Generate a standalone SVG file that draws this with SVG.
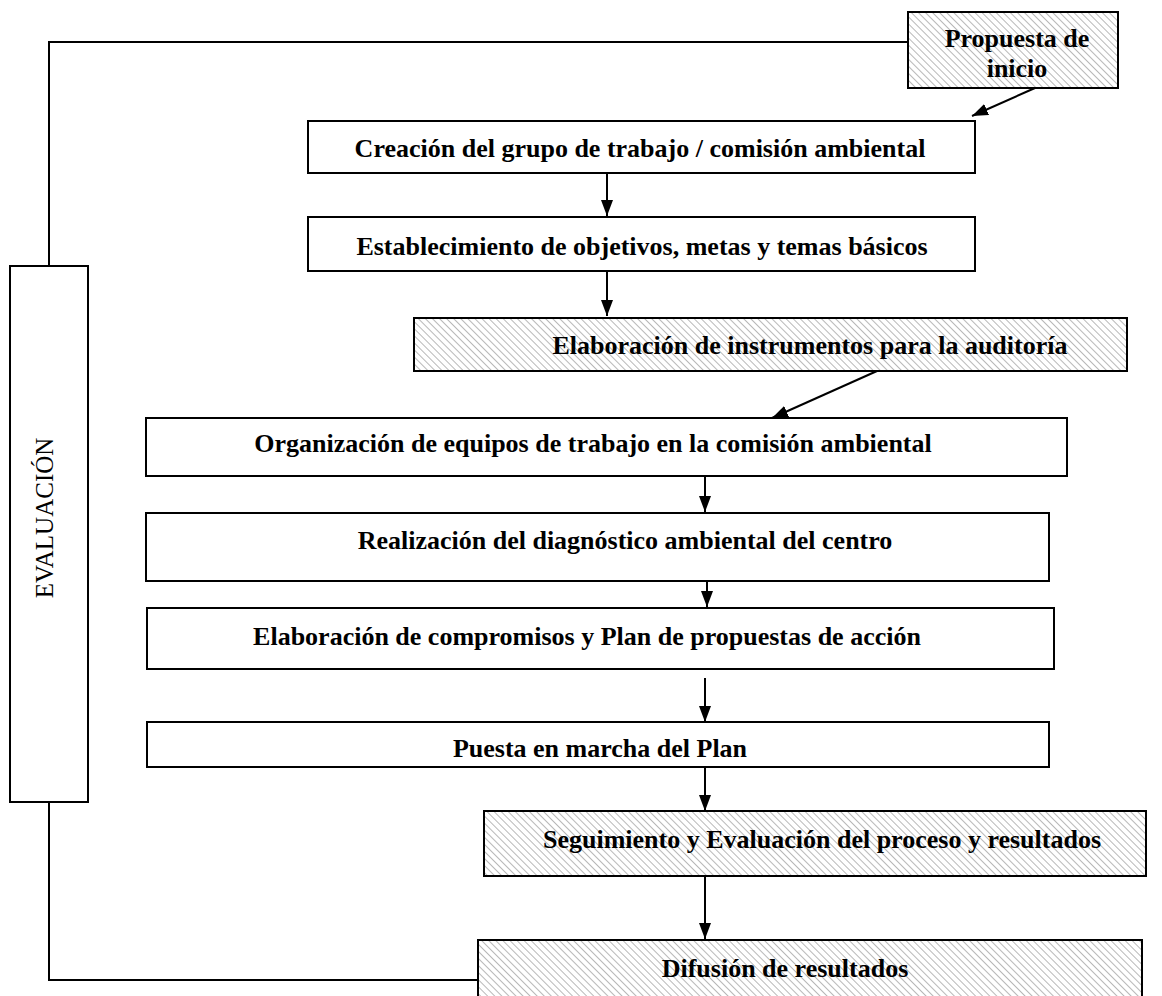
<svg xmlns="http://www.w3.org/2000/svg" width="1162" height="996" viewBox="0 0 1162 996">
  <defs>
    <pattern id="hatch" patternUnits="userSpaceOnUse" width="5" height="5" patternTransform="rotate(-45)">
      <rect width="5" height="5" fill="#ffffff"/>
      <line x1="0" y1="0" x2="0" y2="5" stroke="#b8b8b8" stroke-width="2"/>
    </pattern>
    <marker id="arr" markerUnits="userSpaceOnUse" markerWidth="16" markerHeight="12" refX="16" refY="6" orient="auto">
      <path d="M0,0 L16,6 L0,12 z" fill="#000"/>
    </marker>
  </defs>
  <style>
    .box { fill: #ffffff; stroke: #000; stroke-width: 2; }
    .hbox { fill: url(#hatch); stroke: #000; stroke-width: 2; }
    .t { font-family: "Liberation Serif", "Times New Roman", serif; font-weight: bold; font-size: 26px; fill: #000; text-anchor: middle; }
    .ev { font-family: "Liberation Serif", "Times New Roman", serif; font-size: 25px; fill: #000; text-anchor: middle; }
    .c { fill: none; stroke: #000; stroke-width: 2; }
    .a { fill: none; stroke: #000; stroke-width: 2; marker-end: url(#arr); }
  </style>
  <rect width="1162" height="996" fill="#ffffff"/>

  <g id="connectors">
    <polyline class="c" points="908,42 49,42 49,266"/>
    <polyline class="c" points="49,802 49,980 478,980"/>
    <line class="a" x1="1035" y1="88" x2="972" y2="116"/>
    <line class="a" x1="607" y1="173" x2="607" y2="216"/>
    <line class="a" x1="607" y1="271" x2="607" y2="316"/>
    <line class="a" x1="877" y1="371" x2="772" y2="418"/>
    <line class="a" x1="705" y1="472" x2="705" y2="512"/>
    <line class="a" x1="707" y1="570" x2="707" y2="607"/>
    <line class="a" x1="705" y1="678" x2="705" y2="722"/>
    <line class="a" x1="705" y1="767" x2="705" y2="811"/>
    <line class="a" x1="705" y1="876" x2="705" y2="939"/>
  </g>

  <g id="propuesta">
    <rect class="hbox" x="908" y="12" width="210" height="76"/>
    <text class="t" x="1017" y="47">Propuesta de</text>
    <text class="t" x="1017" y="77">inicio</text>
  </g>
  <g id="creacion">
    <rect class="box" x="308" y="121" width="667" height="52"/>
    <text class="t" x="640" y="157">Creación del grupo de trabajo / comisión ambiental</text>
  </g>
  <g id="establecimiento">
    <rect class="box" x="308" y="217" width="667" height="54"/>
    <text class="t" x="642" y="255">Establecimiento de objetivos, metas y temas básicos</text>
  </g>
  <g id="instrumentos">
    <rect class="hbox" x="414" y="318" width="713" height="53"/>
    <text class="t" x="810" y="354">Elaboración de instrumentos para la auditoría</text>
  </g>
  <g id="organizacion">
    <rect class="box" x="146" y="418" width="921" height="58"/>
    <text class="t" x="593" y="452">Organización de equipos de trabajo en la comisión ambiental</text>
  </g>
  <g id="realizacion">
    <rect class="box" x="146" y="513" width="903" height="68"/>
    <text class="t" x="625" y="549">Realización del diagnóstico ambiental del centro</text>
  </g>
  <g id="compromisos">
    <rect class="box" x="147" y="608" width="907" height="61"/>
    <text class="t" x="587" y="645">Elaboración de compromisos y Plan de propuestas de acción</text>
  </g>
  <g id="puesta">
    <rect class="box" x="147" y="722" width="902" height="45"/>
    <text class="t" x="600" y="757">Puesta en marcha del Plan</text>
  </g>
  <g id="seguimiento">
    <rect class="hbox" x="484" y="811" width="662" height="65"/>
    <text class="t" x="822" y="848">Seguimiento y Evaluación del proceso y resultados</text>
  </g>
  <g id="difusion">
    <rect class="hbox" x="478" y="940" width="664" height="70"/>
    <text class="t" x="785" y="977">Difusión de resultados</text>
  </g>
  <g id="evaluacion">
    <rect class="box" x="10" y="266" width="78" height="536"/>
    <text class="ev" transform="translate(53,518) rotate(-90)" x="0" y="0">EVALUACIÓN</text>
  </g>
</svg>
